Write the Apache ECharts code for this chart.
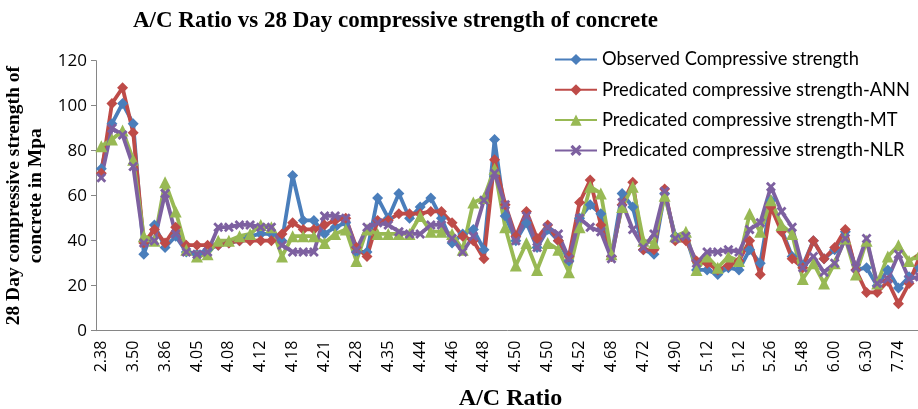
<!DOCTYPE html>
<html>
<head>
<meta charset="utf-8">
<script src="https://cdn.jsdelivr.net/npm/echarts@6/dist/echarts.min.js"></script>
<style>
  html, body { margin: 0; padding: 0; background: #fff; }
  #chart { width: 918px; height: 409px; }
</style>
</head>
<body>
<div id="chart"></div>
<script>
// A/C ratio categories (only every third one is labelled in the picture)
const acRatio = [
  '2.38','3.04','3.33','3.50','3.56','3.73','3.86','3.90','4.00','4.05',
  '4.05','4.07','4.08','4.08','4.10','4.12','4.12','4.17','4.18','4.19',
  '4.20','4.21','4.23','4.25','4.28','4.30','4.33','4.35','4.38','4.41',
  '4.44','4.44','4.45','4.46','4.47','4.48','4.48','4.49','4.50','4.50',
  '4.50','4.50','4.50','4.51','4.52','4.52','4.60','4.65','4.68','4.70',
  '4.71','4.72','4.80','4.85','4.90','5.00','5.10','5.12','5.12','5.12',
  '5.12','5.20','5.23','5.26','5.30','5.40','5.48','5.60','5.80','6.00',
  '6.10','6.20','6.30','6.80','7.20','7.74','7.90','8.10'
];

const observed = [
  72, 92, 101, 92, 34, 47, 37, 42, 35, 34,
  36, 38, 39, 40, 42, 43, 43, 40, 69, 49,
  49, 43, 46, 48, 35, 35, 59, 50, 61, 50,
  55, 59, 50, 39, 43, 45, 36, 85, 51, 40,
  48, 37, 45, 40, 31, 50, 56, 52, 33, 61,
  55, 36, 34, 61, 42, 42, 27, 27, 25, 28,
  27, 36, 30, 58, 45, 33, 29, 40, 32, 36,
  44, 27, 28, 20, 27, 19, 24, 28
];

const ann = [
  70, 101, 108, 88, 39, 45, 39, 46, 38, 38,
  38, 38, 39, 40, 40, 40, 40, 43, 48, 45,
  45, 47, 49, 50, 37, 33, 49, 49, 52, 52,
  52, 53, 53, 48, 42, 40, 32, 76, 56, 42,
  53, 41, 47, 40, 33, 57, 67, 47, 33, 56,
  66, 36, 36, 63, 40, 40, 31, 30, 27, 29,
  31, 40, 25, 55, 44, 32, 28, 40, 32, 37,
  45, 27, 17, 17, 22, 12, 21, 33
];

const mt = [
  82, 85, 89, 76, 42, 40, 66, 53, 36, 33,
  34, 40, 40, 42, 43, 47, 46, 33, 42, 42,
  42, 39, 43, 45, 31, 45, 43, 43, 43, 43,
  51, 44, 44, 43, 36, 57, 59, 72, 46, 29,
  39, 27, 39, 36, 26, 46, 64, 61, 34, 55,
  64, 40, 39, 60, 42, 44, 27, 33, 28, 33,
  31, 52, 44, 58, 47, 43, 23, 30, 21, 30,
  41, 25, 40, 21, 33, 38, 31, 34
];

const nlr = [
  68, 90, 87, 73, 39, 40, 61, 43, 35, 34,
  35, 46, 46, 47, 47, 46, 46, 38, 35, 35,
  35, 51, 51, 50, 36, 46, 48, 47, 44, 43,
  43, 47, 47, 41, 35, 42, 58, 70, 56, 40,
  51, 37, 46, 43, 32, 50, 46, 44, 32, 57,
  45, 37, 43, 62, 41, 42, 30, 35, 35, 36,
  35, 45, 48, 64, 53, 46, 28, 33, 26, 30,
  41, 28, 41, 21, 23, 34, 23, 24
];

const yTicks = [0, 20, 40, 60, 80, 100, 120];

const names = [
  'Observed Compressive strength',
  'Predicated compressive strength-ANN',
  'Predicated compressive strength-MT',
  'Predicated compressive strength-NLR'
];

const xMark = 'path://M2,0L5,3L8,0L10,2L7,5L10,8L8,10L5,7L2,10L0,8L3,5L0,2Z';

function lineSeries(name, data, color, symbol, size) {
  return {
    name: name,
    type: 'line',
    data: data,
    symbol: symbol,
    symbolSize: size,
    showAllSymbol: true,
    lineStyle: { width: 3.8, color: color },
    itemStyle: { color: color },
    emphasis: { disabled: true }
  };
}

let myChart = echarts.init(document.getElementById('chart'));
myChart.setOption({
  animation: false,
  backgroundColor: '#fff',
  title: {
    text: 'A/C Ratio vs 28 Day compressive strength of concrete',
    left: 128,
    top: 5,
    textStyle: {
      fontFamily: '"Liberation Serif", "DejaVu Serif", serif',
      fontWeight: 'bold',
      fontSize: 23,
      color: '#000'
    }
  },
  legend: {
    orient: 'vertical',
    left: 549,
    top: 45,
    itemGap: 11.3,
    itemWidth: 42,
    itemHeight: 14,
    data: names,
    textStyle: {
      fontFamily: 'Lato, "Open Sans", sans-serif',
      fontSize: 18.3,
      lineHeight: 19,
      color: '#000'
    }
  },
  grid: {
    left: 96,
    top: 60.7,
    width: 829,
    bottom: 78.3,
    containLabel: false,
    outerBoundsMode: 'none'
  },
  xAxis: {
    type: 'category',
    data: acRatio,
    boundaryGap: true,
    name: 'A/C Ratio',
    nameLocation: 'middle',
    nameGap: 56,
    nameTextStyle: {
      fontFamily: '"Liberation Serif", serif',
      fontWeight: 'bold',
      fontSize: 24,
      color: '#000'
    },
    axisLine: { lineStyle: { color: '#868686', width: 1 } },
    axisTick: { interval: 0, length: 5, lineStyle: { color: '#868686' } },
    axisLabel: {
      interval: 2,
      rotate: 90,
      margin: 10,
      fontFamily: '"Open Sans", sans-serif',
      fontSize: 16,
      color: '#000'
    },
    splitLine: { show: false }
  },
  yAxis: {
    type: 'value',
    min: yTicks[0],
    max: yTicks[yTicks.length - 1],
    interval: 20,
    name: '28 Day compressive strength of\nconcrete in Mpa',
    nameLocation: 'middle',
    nameGap: 46,
    nameRotate: 90,
    nameTextStyle: {
      fontFamily: '"Liberation Serif", serif',
      fontWeight: 'bold',
      fontSize: 19.5,
      lineHeight: 22,
      color: '#000'
    },
    axisLine: { show: true, lineStyle: { color: '#868686', width: 1 } },
    axisTick: { show: true, length: 5, lineStyle: { color: '#868686' } },
    axisLabel: {
      margin: 9,
      fontFamily: '"Open Sans", sans-serif',
      fontSize: 17,
      color: '#000'
    },
    splitLine: { show: false }
  },
  series: [
    lineSeries(names[0], observed, '#4A7EBB', 'diamond', 11),
    lineSeries(names[1], ann, '#BE4B48', 'diamond', 11),
    lineSeries(names[2], mt, '#98B954', 'triangle', 12),
    lineSeries(names[3], nlr, '#7D60A0', xMark, 10)
  ]
});
</script>
</body>
</html>
